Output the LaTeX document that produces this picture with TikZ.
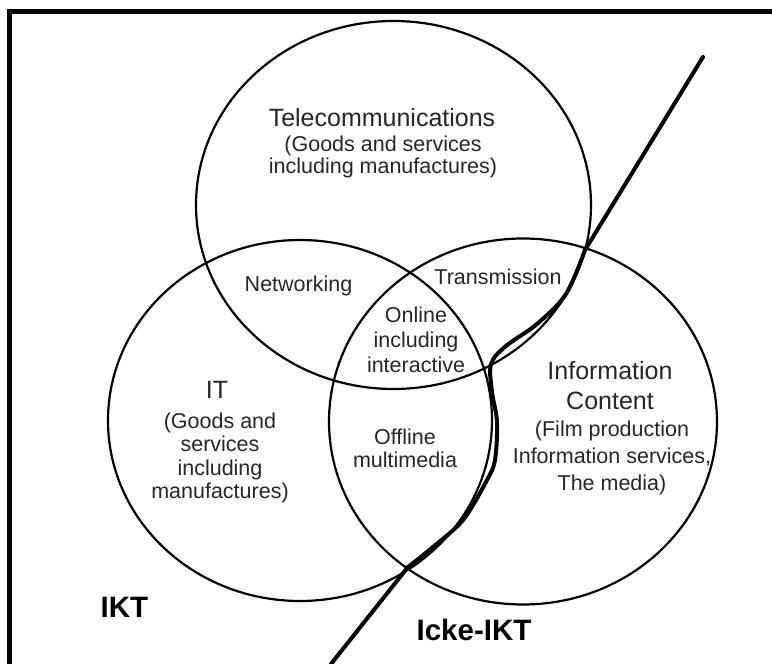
\documentclass[tikz,border=0pt]{standalone}
\usepackage{fontspec}
\setmainfont{Liberation Sans}
\usetikzlibrary{shapes.geometric}

\newcommand{\vennsmall}{\fontsize{21.5}{23.5}\selectfont}
\newcommand{\venntitle}{\fontsize{25}{30}\selectfont}
\newcommand{\vennbold}{\fontsize{29.5}{32}\selectfont\bfseries}

\tikzstyle{sector} = [ellipse, draw=black, line width=2.2pt, inner sep=0pt]
\tikzstyle{txt} = [align=center, inner sep=0pt, text=black!85]
\tikzstyle{cut} = [line width=4pt, line join=round, line cap=round]

\begin{document}
\begin{tikzpicture}[x=1pt, y=1pt]
\useasboundingbox (0,0) rectangle (772,664);

% outer frame
\draw [line width=4.5pt] (9.5,652.5) rectangle (790,-20);

% the three sectors
\node (tel) [sector, minimum width=395, minimum height=368] at (393.5,459) {};
\node (it) [sector, minimum width=384, minimum height=361] at (300,243.5) {};
\node (info) [sector, minimum width=388, minimum height=366] at (523,242.5) {};

% sector texts
\node (teltitle) [txt, font=\venntitle] at (382,546) {Telecommunications};
\node (telsub) [txt, font=\vennsmall] at (383,507) {(Goods and services\\[-1pt]including manufactures)};
\node (ittitle) [txt, font=\venntitle] at (217,274) {IT};
\node (itsub) [txt, font=\vennsmall] at (220,206) {(Goods and\\services\\including\\manufactures)};
\node (infotitle) [txt, font=\venntitle] at (610,278) {Information\\Content};
\node (infosub) [txt, font=\vennsmall] at (612,206) {(Film production\\[3.5pt]Information services,\\[3.5pt]The media)};

% overlaps
\node (net) [txt, font=\vennsmall] at (298.5,378) {Networking};
\node (trans) [txt, font=\vennsmall] at (498,387) {Transmission};
\node (online) [txt, font=\vennsmall] at (416,324.5) {Online\\[1.5pt]including\\[1.5pt]interactive};
\node (offline) [txt, font=\vennsmall] at (405,215.5) {Offline\\multimedia};

% dividing line
\draw [cut] (703,607) -- plot [smooth, tension=0.55] coordinates {(585,414) (566,370) (537,340) (506,318) (491,300) (492,272) (497,242) (495,204) (487,184) (463,144) (433,117) (408,97)} -- (331,0);

\node (ikt) [txt, font=\vennbold, text=black] at (124.5,57) {IKT};
\node (icke) [txt, font=\vennbold, text=black] at (474,34) {Icke-IKT};

\end{tikzpicture}
\end{document}
